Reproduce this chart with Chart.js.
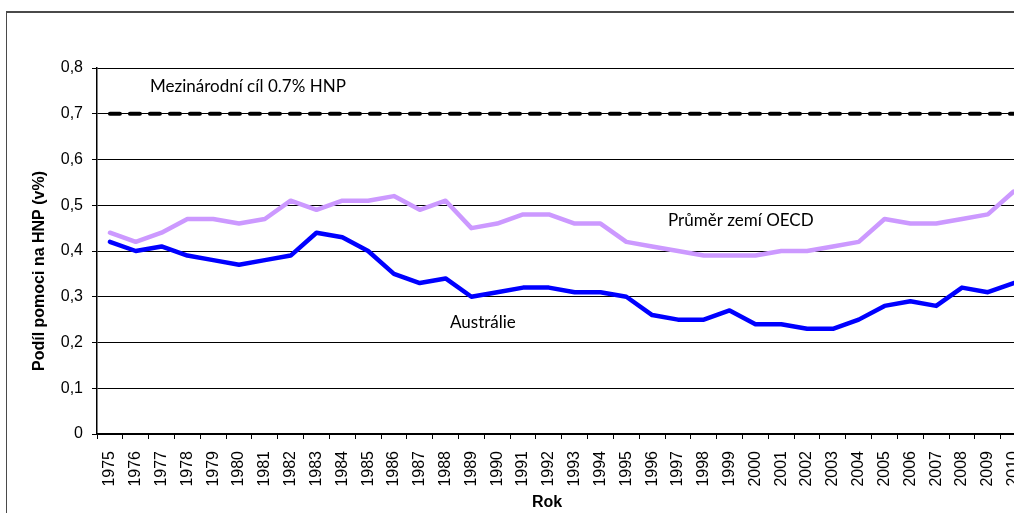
<!DOCTYPE html>
<html><head><meta charset="utf-8">
<script src="https://cdn.jsdelivr.net/npm/chart.js@4/dist/chart.umd.min.js"></script>
<style>
html,body{margin:0;padding:0;background:#fff;overflow:hidden;width:1014px;height:513px;}
#frame{position:absolute;left:6px;top:11px;width:1100px;height:600px;border-top:2px solid #4a4a4a;border-left:1px solid #4a4a4a;}
#wrap{position:absolute;left:0;top:0;width:1045px;height:513px;}
</style></head><body>
<div id="frame"></div>
<div id="wrap"><canvas id="c" width="1045" height="513"></canvas></div>
<script>
const years = ['1975','1976','1977','1978','1979','1980','1981','1982','1983','1984','1985','1986','1987','1988','1989','1990','1991','1992','1993','1994','1995','1996','1997','1998','1999','2000','2001','2002','2003','2004','2005','2006','2007','2008','2009','2010'];
const australia = [0.42,0.40,0.41,0.39,0.38,0.37,0.38,0.39,0.44,0.43,0.40,0.35,0.33,0.34,0.30,0.31,0.32,0.32,0.31,0.31,0.30,0.26,0.25,0.25,0.27,0.24,0.24,0.23,0.23,0.25,0.28,0.29,0.28,0.32,0.31,0.33];
const oecd = [0.44,0.42,0.44,0.47,0.47,0.46,0.47,0.51,0.49,0.51,0.51,0.52,0.49,0.51,0.45,0.46,0.48,0.48,0.46,0.46,0.42,0.41,0.40,0.39,0.39,0.39,0.40,0.40,0.41,0.42,0.47,0.46,0.46,0.47,0.48,0.53];
const target = [0.7,0.7,0.7,0.7,0.7,0.7,0.7,0.7,0.7,0.7,0.7,0.7,0.7,0.7,0.7,0.7,0.7,0.7,0.7,0.7,0.7,0.7,0.7,0.7,0.7,0.7,0.7,0.7,0.7,0.7,0.7,0.7,0.7,0.7,0.7,0.7];
const yTickLabels = ['0','0,1','0,2','0,3','0,4','0,5','0,6','0,7','0,8'];
const yTitle = 'Podíl pomoci na HNP (v%)';
const xTitle = 'Rok';
const notes = [
  {text:'Mezinárodní cíl 0.7% HNP', x:150, y:87},
  {text:'Průměr zemí OECD', x:668, y:221},
  {text:'Austrálie', x:450, y:323}
];

const textPlugin = {
  id:'texts',
  afterDraw(chart){
    const ctx = chart.ctx;
    ctx.save();
    ctx.fillStyle = '#000';
    ctx.textBaseline = 'middle';
    ctx.textAlign = 'left';
    ctx.font = '17px Lato, "Noto Sans", sans-serif';
    notes.forEach(n => ctx.fillText(n.text, n.x, n.y));
    ctx.textAlign = 'center';
    ctx.font = 'bold 16px "Liberation Sans", Arial, sans-serif';
    ctx.fillText(xTitle, 547, 503);
    ctx.translate(40, 271);
    ctx.rotate(-Math.PI/2);
    ctx.fillText(yTitle, 0, 0);
    ctx.restore();
  }
};

const tickFont = {family:'"Liberation Sans", Arial, sans-serif', size:16};

new Chart(document.getElementById('c'), {
  type:'line',
  data:{
    labels: years,
    datasets:[
      {data: oecd, borderColor:'#CC99FF', borderWidth:4.5, borderJoinStyle:'round', borderCapStyle:'round'},
      {data: australia, borderColor:'#0000FF', borderWidth:4.5, borderJoinStyle:'round', borderCapStyle:'round'},
      {data: target, borderColor:'#000', borderWidth:4, borderDash:[10,10], borderCapStyle:'round'}
    ]
  },
  options:{
    responsive:false, animation:false,
    layout:{padding:{left:30, top:68, right:11, bottom:0}},
    plugins:{legend:{display:false}, tooltip:{enabled:false}},
    elements:{point:{radius:0}, line:{tension:0}},
    scales:{
      x:{
        offset:true,
        grid:{offset:true, drawOnChartArea:false, drawTicks:true, tickLength:5, color:'#000', lineWidth:1},
        border:{color:'#000', width:1.5},
        ticks:{autoSkip:false, maxRotation:90, minRotation:90, padding:12, color:'#000', font:tickFont},
        afterFit(s){ s.height = 79; }
      },
      y:{
        min:0, max:0.8,
        ticks:{stepSize:0.1, padding:9, color:'#000', font:tickFont, callback:(v,i)=>yTickLabels[i]},
        grid:{color:'#000', lineWidth:1, tickLength:5, drawTicks:true},
        border:{color:'#000', width:1.5},
        afterFit(s){ s.width = 67; }
      }
    }
  },
  plugins:[textPlugin]
});
</script>
</body></html>
